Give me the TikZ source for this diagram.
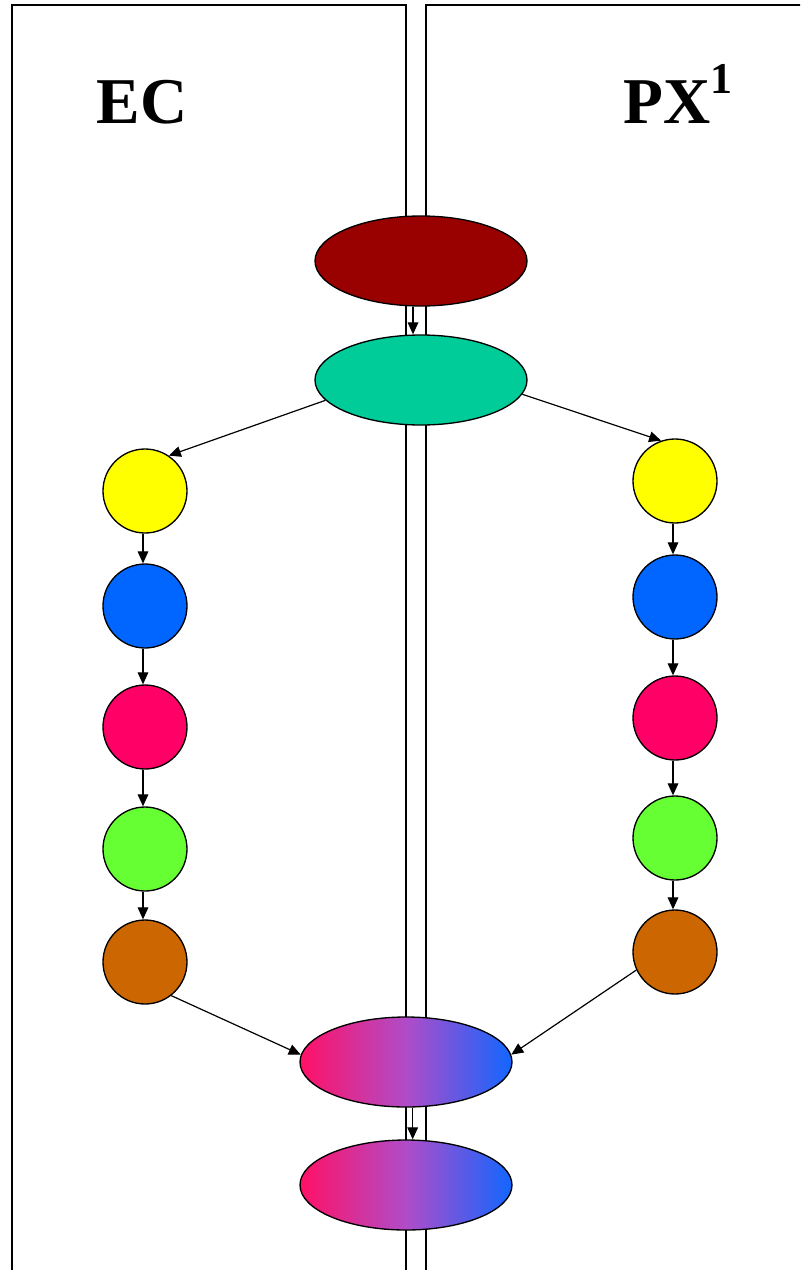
\documentclass[tikz,border=0pt]{standalone}
\usepackage{fontspec}
\setmainfont{Liberation Serif}
\usetikzlibrary{shapes.geometric,arrows.meta}
\definecolor{wine}{HTML}{990000}
\definecolor{teal}{HTML}{00CC99}
\definecolor{lemon}{HTML}{FFFF00}
\definecolor{sky}{HTML}{0066FF}
\definecolor{rose}{HTML}{FF0066}
\definecolor{lime}{HTML}{66FF33}
\definecolor{rust}{HTML}{CC6600}
\definecolor{gradpink}{HTML}{FF1166}
\definecolor{gradmid}{HTML}{B04CC8}
\definecolor{gradblue}{HTML}{1166FF}
\tikzset{
	blob/.style={ellipse,draw,line width=1pt,inner sep=0pt,minimum width=159pt,minimum height=67.5pt,fill=#1},
	mixblob/.style={ellipse,draw,line width=1pt,inner sep=0pt,minimum width=159pt,minimum height=67.5pt,left color=gradpink,right color=gradblue,middle color=gradmid},
	cell/.style={circle,draw,line width=1pt,inner sep=0pt,minimum size=63pt,fill=#1},
	flow/.style={line width=0.9pt,-{Triangle[length=9pt,width=8pt]}},
	title/.style={font=\fontsize{49}{50}\selectfont\bfseries,anchor=base}
}

\begin{document}
\begin{tikzpicture}[x=0.75pt,y=-0.75pt]
	\useasboundingbox (0,0) rectangle (800,1270);
	\clip (0,0) rectangle (800,1270);

	% the two compartments
	\draw[line width=1.1pt] (12,5) rectangle (406,1300);
	\draw[line width=1.1pt] (426,5) rectangle (850,1300);
	\node [title] (ec) at (142,123) {EC};
	\node [title] (px) at (678,123) {PX\raisebox{22pt}{\fontsize{33}{33}\selectfont 1}};

	% shared steps
	\node [blob=wine] (top) at (421,261) {};
	\node [blob=teal] (split) at (421,380) {};

	% left chain
	\node [cell=lemon] (l1) at (145,491) {};
	\node [cell=sky] (l2) at (145,606) {};
	\node [cell=rose] (l3) at (145,727) {};
	\node [cell=lime] (l4) at (145,849) {};
	\node [cell=rust] (l5) at (145,962) {};

	% right chain
	\node [cell=lemon] (r1) at (675,481) {};
	\node [cell=sky] (r2) at (675,597) {};
	\node [cell=rose] (r3) at (675,718) {};
	\node [cell=lime] (r4) at (675,838) {};
	\node [cell=rust] (r5) at (675,952) {};

	% merged steps
	\node [mixblob] (join) at (406,1062) {};
	\node [mixblob] (bottom) at (406,1185) {};

	\draw[flow] ([xshift=-6pt]top.south) -- ([xshift=-6pt]split.north);
	\draw[flow] (split.192) -- (l1.56);
	\draw[flow] (split.352) -- (r1.109);
	\foreach \a/\b in {l1/l2,l2/l3,l3/l4,l4/l5,r1/r2,r2/r3,r3/r4,r4/r5}
		\draw[flow] ([xshift=-1.5pt]\a.south) -- ([xshift=-1.5pt]\b.north);
	\draw[flow] (l5.308) -- (join.176);
	\draw[flow] (r5.205) -- (join.4);
	\draw[flow] ([xshift=5pt]join.south) -- ([xshift=5pt]bottom.north);
\end{tikzpicture}
\end{document}
